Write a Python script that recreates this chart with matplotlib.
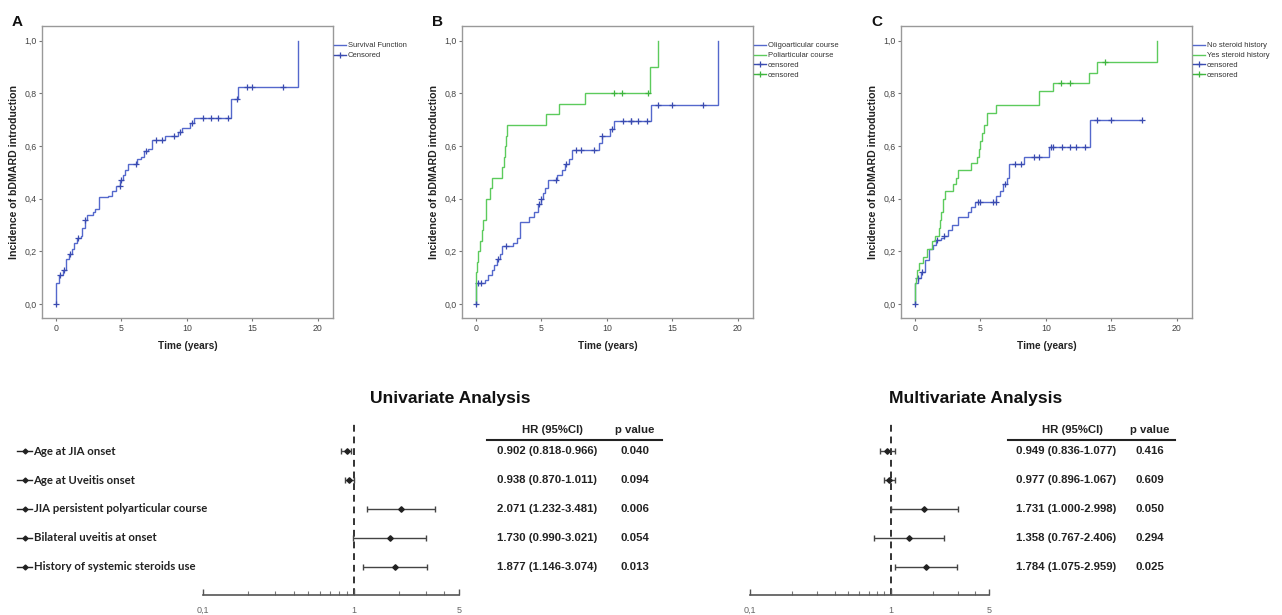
import numpy as np
import matplotlib
matplotlib.use("Agg")
import matplotlib.pyplot as plt
from matplotlib.lines import Line2D
from matplotlib.ticker import FixedLocator, NullFormatter
from matplotlib.transforms import blended_transform_factory as btf

# ---------------- data ----------------
# Panel A: overall cumulative incidence
a_times = [0, 0, 0.25, 0.5, 0.75, 0.8, 1.0, 1.2, 1.4, 1.6, 1.9, 2.0, 2.2, 2.4, 2.8, 3.0, 3.3,
           4.0, 4.3, 4.6, 4.9, 5.1, 5.3, 5.5, 6.2, 6.5, 6.7, 7.0, 7.3, 8.3, 9.3, 9.6, 10.2,
           10.5, 13.35, 13.9, 18.45]
a_vals = [0, 0.08, 0.11, 0.13, 0.14, 0.17, 0.19, 0.21, 0.23, 0.25, 0.26, 0.29, 0.32, 0.34, 0.35,
          0.36, 0.405, 0.41, 0.43, 0.45, 0.47, 0.49, 0.51, 0.533, 0.55, 0.56, 0.58, 0.59, 0.623,
          0.64, 0.655, 0.67, 0.686, 0.705, 0.78, 0.823, 1.0]
a_cens = [0.3, 0.6, 1.05, 1.65, 2.25, 4.85, 5.0, 6.1, 6.85, 7.6, 8.1, 9.0, 9.5, 10.4, 11.2,
          11.8, 12.4, 13.1, 13.85, 14.6, 15.0, 17.3]

# Panel B: oligoarticular vs poliarticular course
b1_times = [0, 0, 0.7, 0.9, 1.2, 1.4, 1.6, 1.8, 2.0, 2.8, 3.1, 3.33, 4.05, 4.4, 4.7, 5.0, 5.1,
            5.3, 5.5, 6.2, 6.6, 6.8, 7.1, 7.3, 9.4, 9.6, 10.2, 10.5, 13.33, 18.45]
b1_vals = [0, 0.08, 0.09, 0.11, 0.13, 0.15, 0.17, 0.19, 0.22, 0.23, 0.25, 0.31, 0.33, 0.35,
           0.38, 0.40, 0.42, 0.44, 0.47, 0.49, 0.51, 0.53, 0.55, 0.585, 0.61, 0.637, 0.665,
           0.695, 0.755, 1.0]
b1_cens = [0.15, 0.4, 1.65, 2.3, 4.8, 5.0, 6.1, 6.9, 7.6, 8.05, 9.0, 9.65, 10.4, 11.2, 11.8,
           11.85, 12.4, 13.05, 13.9, 15.0, 17.3]
b2_times = [0, 0, 0.1, 0.18, 0.3, 0.45, 0.56, 0.76, 1.1, 1.2, 2.0, 2.1, 2.2, 2.3, 2.4, 5.35,
            6.3, 8.3, 13.3, 13.9]
b2_vals = [0, 0.12, 0.16, 0.20, 0.24, 0.28, 0.32, 0.40, 0.44, 0.48, 0.52, 0.56, 0.60, 0.64,
           0.68, 0.72, 0.76, 0.80, 0.90, 1.0]
b2_cens = [10.5, 11.15, 13.1]

# Panel C: no steroid vs steroid history
c1_times = [0, 0, 0.2, 0.45, 0.75, 1.1, 1.35, 1.6, 2.0, 2.2, 2.5, 2.8, 3.3, 4.05, 4.3, 4.6,
            6.2, 6.5, 6.7, 7.0, 7.2, 8.3, 10.2, 13.36, 17.3]
c1_vals = [0, 0.08, 0.10, 0.12, 0.167, 0.208, 0.225, 0.243, 0.25, 0.26, 0.28, 0.30, 0.332,
           0.35, 0.37, 0.389, 0.41, 0.43, 0.455, 0.48, 0.532, 0.56, 0.597, 0.699, 0.699]
c1_cens = [0.23, 0.5, 1.65, 2.25, 4.8, 4.95, 5.95, 6.15, 6.85, 7.6, 8.1, 9.1, 9.5, 10.4, 10.5,
           11.2, 11.8, 12.3, 13.0, 13.87, 15.0, 17.3]
c2_times = [0, 0, 0.05, 0.15, 0.3, 0.6, 0.9, 1.3, 1.5, 1.8, 1.9, 2.0, 2.1, 2.3, 2.9, 3.1,
            3.25, 4.3, 4.7, 4.9, 5.0, 5.1, 5.3, 5.5, 6.15, 9.45, 10.5, 13.3, 13.87, 18.45]
c2_vals = [0, 0.08, 0.10, 0.13, 0.155, 0.18, 0.21, 0.24, 0.26, 0.29, 0.32, 0.35, 0.40, 0.43,
           0.455, 0.48, 0.51, 0.535, 0.56, 0.59, 0.62, 0.65, 0.68, 0.725, 0.756, 0.81, 0.84,
           0.878, 0.918, 1.0]
c2_cens = [11.15, 11.8, 14.5]

km_yticks = [0.0, 0.2, 0.4, 0.6, 0.8, 1.0]
km_ytick_labels = ["0,0", "0,2", "0,4", "0,6", "0,8", "1,0"]
km_xticks = [0, 5, 10, 15, 20]

# Forest plots
variables = ["Age at JIA onset", "Age at Uveitis onset", "JIA persistent polyarticular course",
             "Bilateral uveitis at onset", "History of systemic steroids use"]
uni_hr = [0.902, 0.938, 2.071, 1.730, 1.877]
uni_lo = [0.818, 0.870, 1.232, 0.990, 1.146]
uni_hi = [0.966, 1.011, 3.481, 3.021, 3.074]
uni_p = ["0.040", "0.094", "0.006", "0.054", "0.013"]
multi_hr = [0.949, 0.977, 1.731, 1.358, 1.784]
multi_lo = [0.836, 0.896, 1.000, 0.767, 1.075]
multi_hi = [1.077, 1.067, 2.998, 2.406, 2.959]
multi_p = ["0.416", "0.609", "0.050", "0.294", "0.025"]
forest_ticks = [0.1, 1, 5]
forest_tick_labels = ["0,1", "1", "5"]

# ---------------- styling ----------------
BLUE = "#5468CC"
BLUE_D = "#3A4BB0"
GREEN = "#5CCB5C"
GREEN_D = "#3FB53F"
SANS = ["Liberation Sans", "DejaVu Sans"]
plt.rcParams["font.family"] = SANS

W, H = 1282, 615
fig = plt.figure(figsize=(W / 100, H / 100), dpi=100)


def ax_px(l, t, r, b):
    return fig.add_axes([l / W, 1 - b / H, (r - l) / W, (b - t) / H])


def fx(x):
    return x / W


def fy(y):
    return 1 - y / H


def step_value(times, vals, t):
    i = np.searchsorted(np.asarray(times), t, side="right") - 1
    return vals[i]


def km_panel(left, letter, series, labels):
    ax = ax_px(left, 26, left + 291, 318)
    handles_lines = []
    handles_cens = []
    for times, vals, cens, col, colc in series:
        ax.step(times, vals, where="post", color=col, lw=1.0, solid_joinstyle="miter")
        cy = [step_value(times, vals, t) for t in cens]
        ax.plot(cens, cy, ls="none", marker="+", ms=5, mew=0.9, color=colc)
        handles_lines.append(Line2D([], [], color=col, lw=1.0))
        handles_cens.append(Line2D([], [], color=colc, lw=1.0, marker="+", ms=5, mew=0.9))
    # origin marker of the first series
    ax.plot([series[0][0][0]], [series[0][1][0]], ls="none", marker="+", ms=5, mew=0.9,
            color=series[0][4])
    ax.set_xlim(-1.07, 21.15)
    ax.set_ylim(-0.053, 1.056)
    ax.set_xticks(km_xticks)
    ax.set_xticklabels([str(v) for v in km_xticks])
    ax.set_yticks(km_yticks)
    ax.set_yticklabels(km_ytick_labels)
    ax.tick_params(length=2.5, width=0.8, color="#777", labelsize=6.3, labelcolor="#444", pad=1.5)
    for s in ax.spines.values():
        s.set_color("#999")
        s.set_linewidth(1.0)
    ax.legend(handles_lines + handles_cens, labels, loc="upper left",
              bbox_to_anchor=(1.002, 0.945), frameon=False, fontsize=5.5,
              handlelength=1.6, handletextpad=0.25, labelspacing=0.32, borderpad=0,
              borderaxespad=0, labelcolor="#333")
    fig.text(fx(left - 28), fy(172), "Incidence of bDMARD introduction", rotation=90,
             ha="center", va="center", fontsize=7.6, fontweight="bold", color="#222")
    fig.text(fx(left + 146), fy(346), "Time (years)", ha="center", va="center",
             fontsize=7.3, fontweight="bold", color="#222")
    fig.text(fx(left - 30), fy(26), letter, ha="left", va="baseline", fontsize=11,
             fontweight="bold", color="#111")
    return ax


km_panel(42, "A", [(a_times, a_vals, a_cens, BLUE, BLUE_D)],
         ["Survival Function", "Censored"])
km_panel(462, "B", [(b1_times, b1_vals, b1_cens, BLUE, BLUE_D),
                    (b2_times, b2_vals, b2_cens, GREEN, GREEN_D)],
         ["Oligoarticular course", "Poliarticular course", "censored", "censored"])
km_panel(901, "C", [(c1_times, c1_vals, c1_cens, BLUE, BLUE_D),
                    (c2_times, c2_vals, c2_cens, GREEN, GREEN_D)],
         ["No steroid history", "Yes steroid history", "censored", "censored"])


def forest(left, right, hr, lo, hi, pvals, title, title_x, hr_x, p_x, rule, labels=None):
    ax = ax_px(left, 423, right, 595)
    ax.set_xscale("log")
    n = len(hr)
    ys = np.arange(n)
    hr = np.asarray(hr)
    err = [hr - np.asarray(lo), np.asarray(hi) - hr]
    ax.axvline(1, color="#333", lw=1.4, ls=(0, (3.5, 2.5)), zorder=1)
    ax.errorbar(hr, ys, xerr=err, fmt="D", ms=2.8, color="#222", ecolor="#444",
                elinewidth=1.0, capsize=2, capthick=1.0, zorder=3)
    ax.set_xlim(0.1, 5)
    ax.set_ylim(n - 0.03, -0.97)
    for k in ["top", "left", "right"]:
        ax.spines[k].set_visible(False)
    ax.spines["bottom"].set_color("#555")
    ax.spines["bottom"].set_linewidth(1.2)
    ax.set_yticks([])
    ax.xaxis.set_major_locator(FixedLocator(forest_ticks))
    ax.set_xticklabels(forest_tick_labels)
    ax.xaxis.set_minor_locator(FixedLocator([0.2, 0.3, 0.4, 0.5, 0.6, 0.7, 0.8, 0.9, 2, 3, 4]))
    ax.xaxis.set_minor_formatter(NullFormatter())
    ax.tick_params(axis="x", which="major", direction="in", length=4.5, width=1.0,
                   color="#555", labelsize=6.5, labelcolor="#666", pad=8)
    ax.tick_params(axis="x", which="minor", direction="in", length=3, width=0.8, color="#777")
    ax.patch.set_alpha(0)
    tr = btf(fig.transFigure, ax.transData)
    # table
    ax.text(fx(hr_x + 6), -0.73, "HR (95%CI)", transform=tr, ha="center", va="center",
            fontsize=8.2, fontweight="bold", color="#222")
    ax.text(fx(p_x), -0.73, "p value", transform=tr, ha="center", va="center",
            fontsize=8.2, fontweight="bold", color="#222")
    ax.add_line(Line2D([fx(rule[0]), fx(rule[1])], [-0.38, -0.38], transform=tr,
                       color="#222", lw=1.5, clip_on=False))
    for i in range(n):
        txt = "%.3f (%.3f-%.3f)" % (hr[i], lo[i], hi[i])
        ax.text(fx(hr_x), i, txt, transform=tr, ha="center", va="center", fontsize=8.2,
                fontweight="bold", color="#222")
        ax.text(fx(p_x), i, pvals[i], transform=tr, ha="center", va="center", fontsize=8.2,
                fontweight="bold", color="#222")
    if labels is not None:
        for i, lab in enumerate(labels):
            ax.add_line(Line2D([fx(17), fx(32)], [i, i], transform=tr, color="#222", lw=1.0,
                               clip_on=False))
            ax.add_line(Line2D([fx(24.5)], [i], transform=tr, color="#222", marker="D",
                               ms=2.5, ls="none", clip_on=False))
            ax.text(fx(33.5), i, lab, transform=tr, ha="left", va="center",
                    fontsize=8.2, fontweight="bold", color="#222", family=["Lato", "DejaVu Sans"])
    fig.text(fx(title_x), fy(398), title, ha="center", va="center", fontsize=12.6,
             fontweight="bold", color="#111")
    return ax


forest(203, 459, uni_hr, uni_lo, uni_hi, uni_p, "Univariate Analysis", 450, 547, 635,
       (487, 662), labels=variables)
forest(750, 989, multi_hr, multi_lo, multi_hi, multi_p, "Multivariate Analysis", 976, 1066,
       1150, (1008, 1175))

fig.savefig("out.png", dpi=100)
